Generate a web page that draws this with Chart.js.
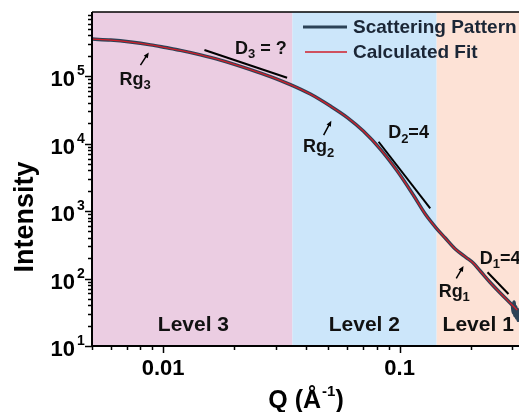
<!DOCTYPE html>
<html>
<head>
<meta charset="utf-8">
<script src="https://cdn.jsdelivr.net/npm/chart.js@4"></script>
<style>
  html, body { margin: 0; padding: 0; background: #fff; }
  #wrap { width: 519px; height: 412px; overflow: hidden; }
</style>
</head>
<body>
<div id="wrap"><canvas id="saxs" width="519" height="412"></canvas></div>
<script>
// values (Q in 1/A, intensity)
const qValues = [0.00503, 0.0060, 0.00728, 0.00884, 0.01023, 0.01183, 0.01438, 0.01747, 0.02339, 0.02841,
                 0.03451, 0.04194, 0.05095, 0.06012, 0.07024, 0.08288, 0.09779, 0.1143, 0.1284, 0.1429,
                 0.1560, 0.1720, 0.1914, 0.2049, 0.2194, 0.2418, 0.2665, 0.2937, 0.3146];
const scatterI = [353000, 341500, 319000, 289900, 264300, 240300, 206200, 172600, 124800, 98300,
                  74830, 54120, 35940, 24280, 15320, 8286, 3914, 1726, 903, 560,
                  398, 273.5, 204.7, 169.7, 129.2, 87.3, 61.0, 43.4, 34.2];
const fitI = [352000, 341000, 318500, 289500, 264000, 240000, 206000, 172400, 124600, 98200,
              74750, 54050, 35900, 24250, 15300, 8280, 3910, 1724, 902, 559,
              397, 273, 204.3, 169.4, 129, 87.1, 60.9, 43.3, 34.1];
// noisy high-Q end of the measured pattern
const qTail = [0.300, 0.3025, 0.305, 0.3075, 0.310, 0.3125, 0.315, 0.3175, 0.320];
const tailI = [41, 31, 45, 28, 38, 26, 35, 24, 30];

const seriesNames = ['Scattering Pattern', 'Calculated Fit'];
const seriesColors = ['#2c4257', '#d01f2a'];
const seriesWidths = [3.5, 1.3];

const levelNames = ['Level 3', 'Level 2', 'Level 1'];
const levelEdges = [0.005, 0.0352, 0.1435, 0.32];
const levelColors = ['#ebcde2', '#cce6fa', '#fde2d6'];

const xMin = 0.005, xMax = 0.32;
const yMin = 10, yMax = 8.9e5;
const xTickValues = [0.01, 0.1];
const xTickLabels = ['0.01', '0.1'];
const yTickValues = [10, 100, 1000, 10000, 100000];
const yTickExps = ['1', '2', '3', '4', '5'];

// annotations in data coordinates
const slopeLines = [
  [[0.01495, 243000], [0.03343, 94400]],
  [[0.08151, 10630], [0.1348, 1097]],
  [[0.2355, 123.6], [0.2889, 58.9]]
];
const labels = [
  { main: 'D', sub: '3', rest: ' = ?', q: 0.0259, i: 211900 },
  { main: 'D', sub: '2', rest: '=4', q: 0.1091, i: 11940 },
  { main: 'D', sub: '1', rest: '=4', q: 0.2665, i: 164 },
  { main: 'Rg', sub: '3', rest: '', q: 0.007616, i: 73560 },
  { main: 'Rg', sub: '2', rest: '', q: 0.0455, i: 7413 },
  { main: 'Rg', sub: '1', rest: '', q: 0.1703, i: 53.8 }
];
const arrows = [
  [[0.008018, 145600], [0.008692, 224400]],
  [[0.04773, 13370], [0.05144, 21780]],
  [[0.1737, 100.7], [0.1864, 153]]
];
const levelLabelI = 16.85;
const levelLabelQ = [0.01343, 0.07093, 0.2151];

const FONT = '"Liberation Sans", Arial, Helvetica, sans-serif';

function subText(ctx, main, sub, rest, x, y, size, subSize) {
  ctx.font = `bold ${size}px ${FONT}`;
  const w1 = ctx.measureText(main).width;
  const w3 = ctx.measureText(rest).width;
  ctx.font = `bold ${subSize}px ${FONT}`;
  const w2 = ctx.measureText(sub).width;
  const left = x - (w1 + w2 + w3) / 2;
  ctx.textAlign = 'left';
  ctx.textBaseline = 'alphabetic';
  ctx.font = `bold ${size}px ${FONT}`;
  ctx.fillText(main, left, y);
  if (rest) ctx.fillText(rest, left + w1 + w2, y);
  ctx.font = `bold ${subSize}px ${FONT}`;
  ctx.fillText(sub, left + w1, y + size * 0.24);
}

function arrow(ctx, x0, y0, x1, y1) {
  const ang = Math.atan2(y1 - y0, x1 - x0);
  const head = 6;
  ctx.beginPath();
  ctx.moveTo(x0, y0);
  ctx.lineTo(x1 - Math.cos(ang) * head * 0.7, y1 - Math.sin(ang) * head * 0.7);
  ctx.stroke();
  ctx.beginPath();
  ctx.moveTo(x1, y1);
  ctx.lineTo(x1 - head * Math.cos(ang - 0.42), y1 - head * Math.sin(ang - 0.42));
  ctx.lineTo(x1 - head * Math.cos(ang + 0.42), y1 - head * Math.sin(ang + 0.42));
  ctx.closePath();
  ctx.fill();
}

const saxsPlugin = {
  id: 'saxsPlugin',
  beforeDatasetsDraw(chart) {
    const { ctx, chartArea: a, scales: { x, y } } = chart;
    ctx.save();
    levelColors.forEach((c, k) => {
      const x0 = x.getPixelForValue(levelEdges[k]);
      const x1 = Math.min(x.getPixelForValue(levelEdges[k + 1]), a.right);
      ctx.fillStyle = c;
      ctx.fillRect(x0, a.top, x1 - x0, a.bottom - a.top);
    });
    ctx.fillStyle = '#111';
    ctx.font = `bold 21px ${FONT}`;
    ctx.textAlign = 'center';
    ctx.textBaseline = 'alphabetic';
    levelNames.forEach((n, k) => {
      ctx.fillText(n, x.getPixelForValue(levelLabelQ[k]), y.getPixelForValue(levelLabelI));
    });
    ctx.restore();
  },
  afterDatasetsDraw(chart) {
    const { ctx, chartArea: a, scales: { x, y } } = chart;
    ctx.save();

    // slope guide lines
    ctx.strokeStyle = '#000';
    ctx.lineWidth = 2;
    slopeLines.forEach(([p0, p1]) => {
      ctx.beginPath();
      ctx.moveTo(x.getPixelForValue(p0[0]), y.getPixelForValue(p0[1]));
      ctx.lineTo(x.getPixelForValue(p1[0]), y.getPixelForValue(p1[1]));
      ctx.stroke();
    });

    // arrows
    ctx.lineWidth = 1.5;
    ctx.fillStyle = '#000';
    arrows.forEach(([p0, p1]) => {
      arrow(ctx, x.getPixelForValue(p0[0]), y.getPixelForValue(p0[1]),
                 x.getPixelForValue(p1[0]), y.getPixelForValue(p1[1]));
    });

    // text annotations
    ctx.fillStyle = '#111';
    labels.forEach(l => {
      subText(ctx, l.main, l.sub, l.rest, x.getPixelForValue(l.q), y.getPixelForValue(l.i), 18, 13);
    });

    // frame
    ctx.strokeStyle = '#000';
    ctx.lineWidth = 1.5;
    ctx.beginPath();
    ctx.moveTo(a.left, a.top);
    ctx.lineTo(a.right, a.top);
    ctx.stroke();
    ctx.lineWidth = 2;
    ctx.beginPath();
    ctx.moveTo(a.left, a.top);
    ctx.lineTo(a.left, a.bottom);
    ctx.lineTo(a.right, a.bottom);
    ctx.stroke();

    // y ticks
    ctx.lineWidth = 1.5;
    const yMinor = [];
    yTickValues.forEach(m => {
      for (let k = 2; k <= 9; k++) if (k * m <= yMax) yMinor.push(k * m);
    });
    yMinor.forEach(v => {
      const py = Math.round(y.getPixelForValue(v)) + 0.5;
      ctx.beginPath(); ctx.moveTo(a.left - 4, py); ctx.lineTo(a.left, py); ctx.stroke();
    });
    yTickValues.forEach(v => {
      const py = Math.round(y.getPixelForValue(v)) + 0.5;
      ctx.beginPath(); ctx.moveTo(a.left - 7, py); ctx.lineTo(a.left, py); ctx.stroke();
    });

    // x ticks
    const xMinor = [];
    [0.001, 0.01, 0.1].forEach(b => {
      for (let k = 2; k <= 9; k++) {
        const v = k * b;
        if (v >= xMin && v <= xMax) xMinor.push(v);
      }
    });
    xMinor.forEach(v => {
      const px = Math.round(x.getPixelForValue(v)) + 0.5;
      ctx.beginPath(); ctx.moveTo(px, a.bottom); ctx.lineTo(px, a.bottom + 4); ctx.stroke();
    });
    xTickValues.forEach(v => {
      const px = Math.round(x.getPixelForValue(v)) + 0.5;
      ctx.beginPath(); ctx.moveTo(px, a.bottom); ctx.lineTo(px, a.bottom + 7); ctx.stroke();
    });

    // tick labels
    ctx.fillStyle = '#000';
    ctx.textBaseline = 'alphabetic';
    yTickValues.forEach((v, k) => {
      const py = y.getPixelForValue(v);
      ctx.textAlign = 'right';
      ctx.font = `bold 22px ${FONT}`;
      ctx.fillText('10', a.left - 17, py + 10);
      ctx.textAlign = 'left';
      ctx.font = `bold 14px ${FONT}`;
      ctx.fillText(yTickExps[k], a.left - 15, py - 1);
    });
    ctx.textAlign = 'center';
    ctx.font = `bold 22px ${FONT}`;
    xTickValues.forEach((v, k) => {
      ctx.fillText(xTickLabels[k], x.getPixelForValue(v), a.bottom + 29);
    });

    // axis titles
    ctx.save();
    ctx.translate(33, 217);
    ctx.rotate(-Math.PI / 2);
    ctx.font = `bold 27px ${FONT}`;
    ctx.textAlign = 'center';
    ctx.fillText('Intensity', 0, 0);
    ctx.restore();

    ctx.font = `bold 25px ${FONT}`;
    const t1 = 'Q (Å', t3 = ')';
    const w1 = ctx.measureText(t1).width, w3 = ctx.measureText(t3).width;
    ctx.font = `bold 15px ${FONT}`;
    const w2 = ctx.measureText('-1').width;
    const left = (a.left + a.right) / 2 - (w1 + w2 + w3) / 2;
    ctx.textAlign = 'left';
    ctx.font = `bold 25px ${FONT}`;
    ctx.fillText(t1, left, 408);
    ctx.fillText(t3, left + w1 + w2 + 1, 408);
    ctx.font = `bold 15px ${FONT}`;
    ctx.fillText('-1', left + w1 + 1, 396);

    // legend
    ctx.font = `bold 19px ${FONT}`;
    ctx.textBaseline = 'middle';
    ctx.textAlign = 'left';
    seriesNames.forEach((n, k) => {
      const ly = 27 + k * 25;
      ctx.strokeStyle = seriesColors[k];
      ctx.lineWidth = k === 0 ? 3 : 1.5;
      ctx.beginPath();
      ctx.moveTo(k === 0 ? 303 : 305, ly);
      ctx.lineTo(347, ly);
      ctx.stroke();
      ctx.fillStyle = '#1b2636';
      ctx.fillText(n, 353, ly + 1);
    });

    ctx.restore();
  }
};

const scatterPoints = qValues.map((q, k) => ({ x: q, y: scatterI[k] }))
  .concat(qTail.map((q, k) => ({ x: q, y: tailI[k] })));
const fitPoints = qValues.map((q, k) => ({ x: q, y: fitI[k] }));

new Chart(document.getElementById('saxs'), {
  type: 'line',
  data: {
    datasets: [
      {
        label: seriesNames[0],
        data: scatterPoints,
        borderColor: seriesColors[0],
        borderWidth: seriesWidths[0],
        pointRadius: 0,
        order: 2,
        cubicInterpolationMode: 'monotone'
      },
      {
        label: seriesNames[1],
        data: fitPoints,
        borderColor: seriesColors[1],
        borderWidth: seriesWidths[1],
        pointRadius: 0,
        order: 1,
        cubicInterpolationMode: 'monotone'
      }
    ]
  },
  options: {
    responsive: false,
    animation: false,
    layout: { padding: { top: 12, left: 0, right: 0, bottom: 0 } },
    plugins: { legend: { display: false }, tooltip: { enabled: false } },
    scales: {
      x: {
        type: 'logarithmic', min: xMin, max: xMax,
        ticks: { display: false }, grid: { display: false }, border: { display: false },
        afterFit: s => { s.height = 66; }
      },
      y: {
        type: 'logarithmic', min: yMin, max: yMax,
        ticks: { display: false }, grid: { display: false }, border: { display: false },
        afterFit: s => { s.width = 92; }
      }
    }
  },
  plugins: [saxsPlugin]
});
</script>
</body>
</html>
